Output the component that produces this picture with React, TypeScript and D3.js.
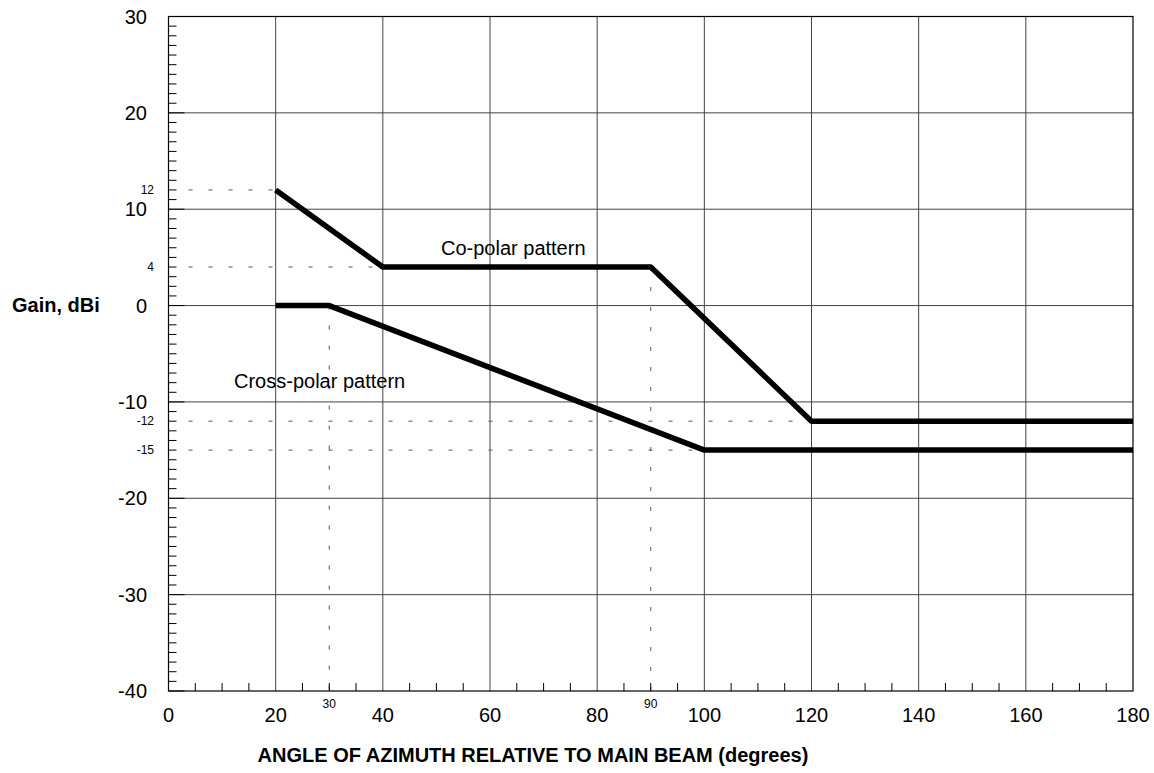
import React from "react";
import * as d3 from "d3";

const coPolarX = [20, 40, 90, 120, 180];
const coPolarY = [12, 4, 4, -12, -12];
const crossPolarX = [20, 30, 100, 180];
const crossPolarY = [0, 0, -15, -15];
const xTicks = [0, 20, 40, 60, 80, 100, 120, 140, 160, 180];
const yTicks = [30, 20, 10, 0, -10, -20, -30, -40];
const refY = [
  { v: 12, x0: 0, x1: 20 },
  { v: 4, x0: 0, x1: 40 },
  { v: -12, x0: 0, x1: 180 },
  { v: -15, x0: 0, x1: 180 },
];
const refX = [
  { v: 30, y0: 0 },
  { v: 90, y0: 4 },
];

export default function App() {
  const W = 1154, H = 773;
  const left = 168.5, right = 1133, top = 16.5, bottom = 691;
  const x = d3.scaleLinear().domain([0, 180]).range([left, right]);
  const y = d3.scaleLinear().domain([-40, 30]).range([bottom, top]);
  const line = d3.line<[number, number]>().x(d => x(d[0])).y(d => y(d[1]));
  const co = coPolarX.map((v, i) => [v, coPolarY[i]] as [number, number]);
  const cr = crossPolarX.map((v, i) => [v, crossPolarY[i]] as [number, number]);
  const minorX = d3.range(0, 181, 5).filter(v => v % 20 !== 0);
  const minorY = d3.range(-40, 31, 1).filter(v => v % 10 !== 0);
  const font = "Liberation Sans, Arial, sans-serif";
  return (
    <svg width={W} height={H} style={{ position: "absolute", left: 0, top: 0, background: "#fff" }} fontFamily={font}>
      {xTicks.filter(v => v > 0 && v < 180).map(v => (
        <line key={"gx" + v} x1={x(v)} x2={x(v)} y1={top} y2={bottom} stroke="#444" strokeWidth={1} />
      ))}
      {yTicks.filter(v => v > -40 && v < 30).map(v => (
        <line key={"gy" + v} x1={left} x2={right} y1={y(v)} y2={y(v)} stroke="#444" strokeWidth={1} />
      ))}
      {refY.map(r => (
        <line key={"ry" + r.v} x1={x(r.x0) + 20} x2={x(r.x1)} y1={y(r.v)} y2={y(r.v)} stroke="#555" strokeWidth={1} strokeDasharray="4 16" />
      ))}
      {refX.map(r => (
        <line key={"rx" + r.v} x1={x(r.v)} x2={x(r.v)} y1={y(r.y0)} y2={bottom} stroke="#555" strokeWidth={1} strokeDasharray="4 16" />
      ))}
      {minorX.map(v => (
        <line key={"mx" + v} x1={x(v)} x2={x(v)} y1={bottom} y2={bottom - 8} stroke="#000" strokeWidth={1} />
      ))}
      {minorY.map(v => (
        <line key={"my" + v} x1={left} x2={left + 8} y1={y(v)} y2={y(v)} stroke="#000" strokeWidth={1} />
      ))}
      {yTicks.map(v => (
        <line key={"My" + v} x1={left} x2={left + 16} y1={y(v)} y2={y(v)} stroke="#000" strokeWidth={1} />
      ))}
      <rect x={left} y={top} width={right - left} height={bottom - top} fill="none" stroke="#000" strokeWidth={1.2} />
      <path d={line(co) || ""} fill="none" stroke="#000" strokeWidth={5.5} strokeLinejoin="round" />
      <path d={line(cr) || ""} fill="none" stroke="#000" strokeWidth={5.5} strokeLinejoin="round" />
      {yTicks.map(v => (
        <text key={"ly" + v} x={147} y={y(v) + 7} textAnchor="end" fontSize={20} fill="#000">{v}</text>
      ))}
      {refY.map(r => (
        <text key={"lry" + r.v} x={154} y={y(r.v) + 4} textAnchor="end" fontSize={12} fill="#000">{r.v}</text>
      ))}
      {xTicks.map(v => (
        <text key={"lx" + v} x={x(v)} y={722} textAnchor="middle" fontSize={20} fill="#000">{v}</text>
      ))}
      {refX.map(r => (
        <text key={"lrx" + r.v} x={x(r.v)} y={708} textAnchor="middle" fontSize={12} fill="#000">{r.v}</text>
      ))}
      <text x={12} y={312} fontSize={20} fontWeight="bold" fill="#000">Gain, dBi</text>
      <text x={533} y={762} textAnchor="middle" fontSize={20} fontWeight="bold" fill="#000">ANGLE OF AZIMUTH RELATIVE TO MAIN BEAM (degrees)</text>
      <text x={441} y={255} fontSize={20} fill="#000">Co-polar pattern</text>
      <text x={234} y={388} fontSize={20} fill="#000">Cross-polar pattern</text>
    </svg>
  );
}
